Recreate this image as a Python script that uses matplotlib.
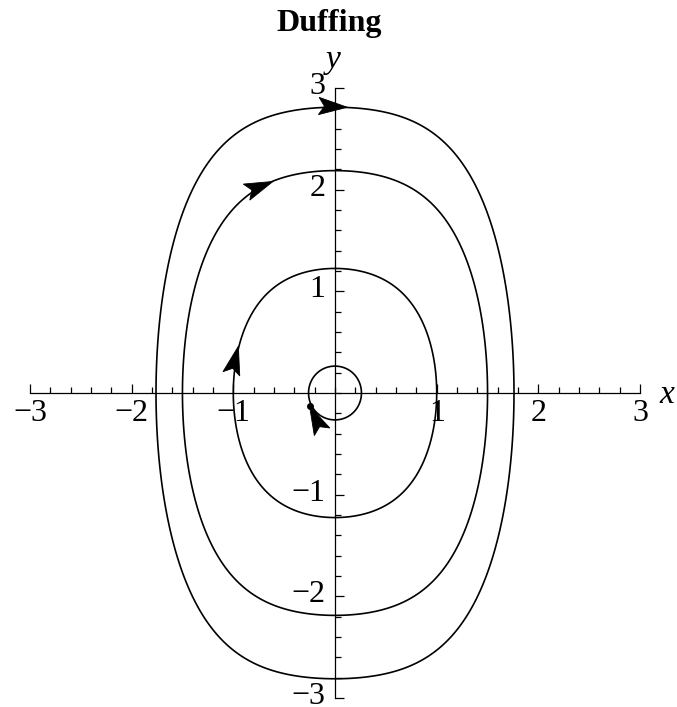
import matplotlib

matplotlib.use("Agg")
import matplotlib.pyplot as plt
import matplotlib.transforms as mtransforms
import numpy as np
from matplotlib.patches import Polygon
from matplotlib.ticker import FixedLocator

plt.rcParams["font.family"] = ["Liberation Serif", "DejaVu Serif"]

# Duffing oscillator x' = y, y' = -x - x^3, closed orbits by turning point
orbit_amplitudes = [0.26, 1.0, 1.5, 1.76]

# arrowhead tips sitting on the orbits
arrow_x = [0.12, -0.61, -0.95, -0.25]
arrow_y = [2.81, 2.08, 0.46, -0.13]

x_ticks = [-3, -2, -1, 1, 2, 3]
y_ticks = [-3, -2, -1, 1, 2, 3]
minor_ticks = np.round(np.arange(-3, 3.01, 0.2), 1)

PX_PER_UNIT = 101.7
W, H = 677, 707
X0, Y0 = 335, 393  # pixel of the origin


def potential(x):
    return x**2 / 2 + x**4 / 4


def energy(x, y):
    return y**2 / 2 + potential(x)


def flow(x, y):
    return y, -x - x**3


def arrowhead(ax, tip_x, tip_y, length=0.28, width=0.17, notch=0.8):
    dx, dy = flow(tip_x, tip_y)
    n = np.hypot(dx, dy)
    ux, uy = dx / n, dy / n
    px, py = -uy, ux
    bx, by = tip_x - length * ux, tip_y - length * uy
    nx, ny = tip_x - notch * length * ux, tip_y - notch * length * uy
    pts = [
        (tip_x, tip_y),
        (bx + px * width / 2, by + py * width / 2),
        (nx, ny),
        (bx - px * width / 2, by - py * width / 2),
    ]
    ax.add_patch(Polygon(pts, closed=True, facecolor="black", edgecolor="black",
                         lw=0.6, zorder=4))


fig = plt.figure(figsize=(W / 100, H / 100), dpi=100)
ax = fig.add_axes([0, 0, 1, 1])
ax.set_xlim(-X0 / PX_PER_UNIT, (W - X0) / PX_PER_UNIT)
ax.set_ylim((Y0 - H) / PX_PER_UNIT, Y0 / PX_PER_UNIT)
ax.set_aspect("equal")
ax.patch.set_alpha(0)

# orbits as level sets of the energy
gx = np.linspace(-2.0, 2.0, 1201)
gy = np.linspace(-3.2, 3.2, 1601)
GX, GY = np.meshgrid(gx, gy)
levels = sorted(potential(a) for a in orbit_amplitudes)
ax.contour(GX, GY, energy(GX, GY), levels=levels, colors="black",
           linewidths=1.2, zorder=3)

for tx, ty in zip(arrow_x, arrow_y):
    arrowhead(ax, tx, ty)
ax.plot(arrow_x[-1], arrow_y[-1], "o", color="black", ms=4, zorder=5)

# axes through the origin
for side in ("top", "right"):
    ax.spines[side].set_visible(False)
ax.spines["left"].set_position(("data", 0))
ax.spines["bottom"].set_position(("data", 0))
ax.spines["left"].set_bounds(-3, 3)
ax.spines["bottom"].set_bounds(-3, 3)
for side in ("left", "bottom"):
    ax.spines[side].set_linewidth(0.9)
    ax.spines[side].set_zorder(2)

ax.xaxis.set_major_locator(FixedLocator(x_ticks))
ax.yaxis.set_major_locator(FixedLocator(y_ticks))
ax.xaxis.set_minor_locator(FixedLocator(minor_ticks))
ax.yaxis.set_minor_locator(FixedLocator(minor_ticks))
ax.tick_params(which="both", direction="in", width=0.9, labelsize=23)
ax.tick_params(which="major", length=6.5)
ax.tick_params(which="minor", length=4)
ax.tick_params(axis="x", which="major", pad=4)
ax.tick_params(axis="y", which="major", pad=7)
ax.set_xticklabels([f"{t}".replace("-", "\u2212") for t in x_ticks])
ax.set_yticklabels([f"{t}".replace("-", "\u2212") for t in y_ticks])

# y labels sit a little above their ticks
lift = mtransforms.ScaledTranslation(0, 5 / 100, fig.dpi_scale_trans)
for lab in ax.get_yticklabels():
    lab.set_transform(lab.get_transform() + lift)

ax.text(3.26, -0.02, "x", fontsize=24, style="italic", ha="center", va="center")
ax.text(-0.02, 3.28, "y", fontsize=24, style="italic", ha="center", va="center")
fig.text(329 / W, 1 - 24 / H, "Duffing", fontsize=23, fontweight="bold",
         ha="center", va="center")

fig.savefig("out.png", dpi=100)
